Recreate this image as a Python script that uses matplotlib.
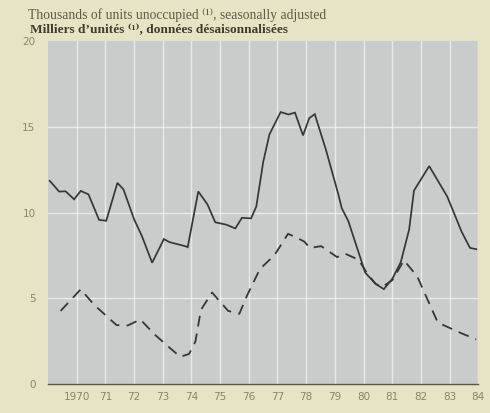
import matplotlib
matplotlib.use("Agg")
import matplotlib.pyplot as plt

# Unoccupied dwelling units, thousands, seasonally adjusted
solid_dates = [1969.06, 1969.39, 1969.61, 1969.91, 1970.14, 1970.41, 1970.78, 1971.03,
               1971.42, 1971.63, 1972.00, 1972.27, 1972.63, 1973.04, 1973.24, 1973.78,
               1973.87, 1974.24, 1974.56, 1974.83, 1975.22, 1975.53, 1975.76, 1976.08,
               1976.26, 1976.44, 1976.50, 1976.72, 1977.11, 1977.39, 1977.61, 1977.89,
               1978.11, 1978.30, 1978.69, 1979.13, 1979.24, 1979.47, 1980.06, 1980.42,
               1980.71, 1981.01, 1981.30, 1981.59, 1981.76, 1982.29, 1982.92, 1983.42,
               1983.71, 1983.93]
solid_units = [11.86, 11.23, 11.25, 10.78, 11.27, 11.07, 9.58, 9.53,
               11.74, 11.36, 9.62, 8.65, 7.08, 8.46, 8.28, 8.05,
               7.99, 11.24, 10.48, 9.44, 9.30, 9.08, 9.70, 9.67,
               10.35, 12.27, 12.94, 14.57, 15.87, 15.73, 15.84, 14.51,
               15.52, 15.75, 13.67, 11.02, 10.27, 9.51, 6.50, 5.85,
               5.54, 6.16, 7.12, 9.01, 11.29, 12.72, 10.94, 8.89,
               7.95, 7.87]

dashed_dates = [1969.44, 1970.14, 1970.61, 1971.39, 1971.78, 1972.22, 1972.72, 1973.22,
                1973.61, 1973.92, 1974.14, 1974.33, 1974.72, 1975.28, 1975.67, 1975.94,
                1976.39, 1976.89, 1977.37, 1977.72, 1977.94, 1978.13, 1978.52, 1979.08,
                1979.36, 1979.83, 1980.11, 1980.42, 1980.65, 1981.01, 1981.41, 1981.87,
                1982.59, 1983.42, 1983.93]
dashed_units = [4.27, 5.53, 4.62, 3.44, 3.42, 3.77, 2.89, 2.15,
                1.59, 1.76, 2.49, 4.33, 5.34, 4.27, 4.10, 5.17,
                6.72, 7.51, 8.77, 8.50, 8.31, 7.94, 8.05, 7.41,
                7.61, 7.25, 6.50, 5.85, 5.67, 6.07, 7.22, 6.29,
                3.59, 2.96, 2.61]

year_ticks = list(range(1970, 1985))
year_labels = ["1970"] + [str(y)[2:] for y in year_ticks[1:]]
value_ticks = [0, 5, 10, 15, 20]

paper = "#e7e3c5"
panel = "#c8cdcb"
ink = "#343736"
label_ink = "#8a8468"
serif = ["Liberation Serif", "DejaVu Serif"]

fig = plt.figure(figsize=(4.9, 4.13), dpi=100, facecolor=paper)
ax = fig.add_axes([0.098, 0.070, 0.878, 0.830])
ax.set_facecolor(panel)

ax.set_xlim(1969.0, 1984.0)
ax.set_ylim(0, 20)

for y in year_ticks:
    ax.axvline(y, color="white", lw=1.0, alpha=0.6, zorder=1)
for v in value_ticks[1:-1]:
    ax.axhline(v, color="white", lw=1.0, alpha=0.6, zorder=1)

ax.plot(solid_dates, solid_units, color=ink, lw=1.25, zorder=3,
        solid_joinstyle="miter")
ax.plot(dashed_dates, dashed_units, color=ink, lw=1.3, zorder=3,
        linestyle=(0, (6, 4)))

for side in ("top", "right", "left"):
    ax.spines[side].set_visible(False)
ax.spines["bottom"].set_color("#55584f")
ax.spines["bottom"].set_linewidth(1.0)

ax.set_xticks(year_ticks)
ax.set_xticklabels(year_labels)
ax.set_yticks(value_ticks)
ax.set_yticklabels([str(v) for v in value_ticks])
ax.tick_params(axis="both", length=0, labelsize=7.5, labelcolor=label_ink)
ax.tick_params(axis="x", pad=6)
ax.tick_params(axis="y", pad=9)
ax.grid(False)

fig.text(28 / 490, 1 - 19 / 413,
         "Thousands of units unoccupied \u207d\u00b9\u207e, seasonally adjusted",
         family=serif, fontsize=9.8, color="#5e5a45", va="baseline")
fig.text(30 / 490, 1 - 33 / 413,
         "Milliers d\u2019unit\u00e9s \u207d\u00b9\u207e, donn\u00e9es d\u00e9saisonnalis\u00e9es",
         family=serif, fontsize=9.6, fontweight="bold",
         color="#3f3c2c", va="baseline")

fig.savefig("out.png", dpi=100, facecolor=paper)
